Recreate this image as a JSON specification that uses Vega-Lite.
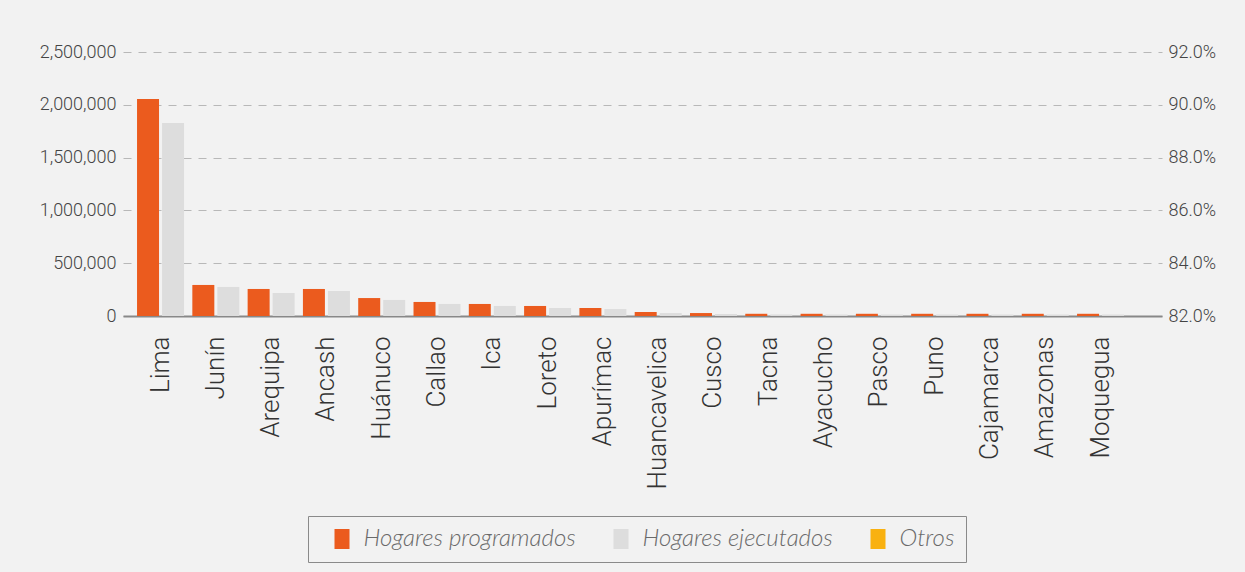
{
  "$schema": "https://vega.github.io/schema/vega-lite/v6.json",
  "width": 1039,
  "height": 264,
  "autosize": {"type": "none"},
  "padding": {"left": 123, "top": 52, "right": 83, "bottom": 256},
  "background": "#f2f2f2",
  "config": {
    "view": {"stroke": null},
    "axis": {"labelFont": "Roboto", "labelFontWeight": 300, "labelColor": "#444", "labelFontSize": 18, "ticks": false, "title": null},
    "legend": {"labelFont": "Lato", "labelFontStyle": "italic", "labelFontWeight": 300, "labelFontSize": 24, "labelColor": "#6a6a6a", "labelLimit": 500}
  },
  "layer": [
    {
      "data": {"values": [
        {"region": "Lima", "serie": "Hogares programados", "value": 2055000},
        {"region": "Lima", "serie": "Hogares ejecutados", "value": 1828000},
        {"region": "Junín", "serie": "Hogares programados", "value": 294000},
        {"region": "Junín", "serie": "Hogares ejecutados", "value": 275000},
        {"region": "Arequipa", "serie": "Hogares programados", "value": 256000},
        {"region": "Arequipa", "serie": "Hogares ejecutados", "value": 218000},
        {"region": "Ancash", "serie": "Hogares programados", "value": 256000},
        {"region": "Ancash", "serie": "Hogares ejecutados", "value": 237000},
        {"region": "Huánuco", "serie": "Hogares programados", "value": 170000},
        {"region": "Huánuco", "serie": "Hogares ejecutados", "value": 152000},
        {"region": "Callao", "serie": "Hogares programados", "value": 133000},
        {"region": "Callao", "serie": "Hogares ejecutados", "value": 114000},
        {"region": "Ica", "serie": "Hogares programados", "value": 114000},
        {"region": "Ica", "serie": "Hogares ejecutados", "value": 95000},
        {"region": "Loreto", "serie": "Hogares programados", "value": 95000},
        {"region": "Loreto", "serie": "Hogares ejecutados", "value": 76000},
        {"region": "Apurímac", "serie": "Hogares programados", "value": 76000},
        {"region": "Apurímac", "serie": "Hogares ejecutados", "value": 66000},
        {"region": "Huancavelica", "serie": "Hogares programados", "value": 38000},
        {"region": "Huancavelica", "serie": "Hogares ejecutados", "value": 28000},
        {"region": "Cusco", "serie": "Hogares programados", "value": 28000},
        {"region": "Cusco", "serie": "Hogares ejecutados", "value": 19000},
        {"region": "Tacna", "serie": "Hogares programados", "value": 21000},
        {"region": "Tacna", "serie": "Hogares ejecutados", "value": 15000},
        {"region": "Ayacucho", "serie": "Hogares programados", "value": 21000},
        {"region": "Ayacucho", "serie": "Hogares ejecutados", "value": 14000},
        {"region": "Pasco", "serie": "Hogares programados", "value": 21000},
        {"region": "Pasco", "serie": "Hogares ejecutados", "value": 14000},
        {"region": "Puno", "serie": "Hogares programados", "value": 21000},
        {"region": "Puno", "serie": "Hogares ejecutados", "value": 14000},
        {"region": "Cajamarca", "serie": "Hogares programados", "value": 21000},
        {"region": "Cajamarca", "serie": "Hogares ejecutados", "value": 14000},
        {"region": "Amazonas", "serie": "Hogares programados", "value": 21000},
        {"region": "Amazonas", "serie": "Hogares ejecutados", "value": 14000},
        {"region": "Moquegua", "serie": "Hogares programados", "value": 21000},
        {"region": "Moquegua", "serie": "Hogares ejecutados", "value": 14000}
      ]},
      "mark": {"type": "bar"},
      "encoding": {
        "x": {
          "field": "region", "type": "nominal", "sort": null,
          "scale": {"paddingInner": 0.15, "paddingOuter": 0.47, "align": 0.27},
          "axis": {"labelAngle": -90, "labelAlign": "right", "labelBaseline": "middle", "labelPadding": 20, "labelFontSize": 26, "labelColor": "#333", "domainColor": "#888", "domainWidth": 2, "grid": false}
        },
        "xOffset": {"field": "serie", "type": "nominal", "sort": ["Hogares programados", "Hogares ejecutados"], "scale": {"paddingInner": 0.12}},
        "y": {
          "field": "value", "type": "quantitative",
          "scale": {"domain": [0, 2500000], "nice": false},
          "axis": {"values": [0, 500000, 1000000, 1500000, 2000000, 2500000], "format": ",d", "domain": false, "labelPadding": 7, "gridColor": "#b8b8b8", "gridDash": [8, 7], "gridWidth": 1.2}
        },
        "color": {
          "field": "serie", "type": "nominal",
          "scale": {"domain": ["Hogares programados", "Hogares ejecutados", "Otros"], "range": ["#eb5b1e", "#dddddd", "#f9b110"]},
          "legend": {
            "title": null, "orient": "none", "direction": "horizontal", "legendX": 185, "legendY": 464,
            "symbolType": "M0.35,-1H1.85V1H0.35Z", "symbolSize": 400, "symbolStrokeWidth": 0, "symbolOpacity": 1,
            "labelOffset": 20.5, "columnPadding": 22, "padding": 11,
            "strokeColor": "#8a8a8a", "fillColor": "#f2f2f2"
          }
        }
      }
    },
    {
      "data": {"values": []},
      "mark": {"type": "line", "color": "#f9b110"},
      "encoding": {
        "x": {"field": "region", "type": "nominal", "sort": null},
        "y": {
          "field": "pct", "type": "quantitative",
          "scale": {"domain": [0.82, 0.92], "nice": false, "zero": false},
          "axis": {"orient": "right", "values": [0.82, 0.84, 0.86, 0.88, 0.90, 0.92], "format": ".1%", "domain": false, "grid": false, "labelPadding": 6}
        }
      }
    }
  ],
  "resolve": {"scale": {"y": "independent"}}
}
